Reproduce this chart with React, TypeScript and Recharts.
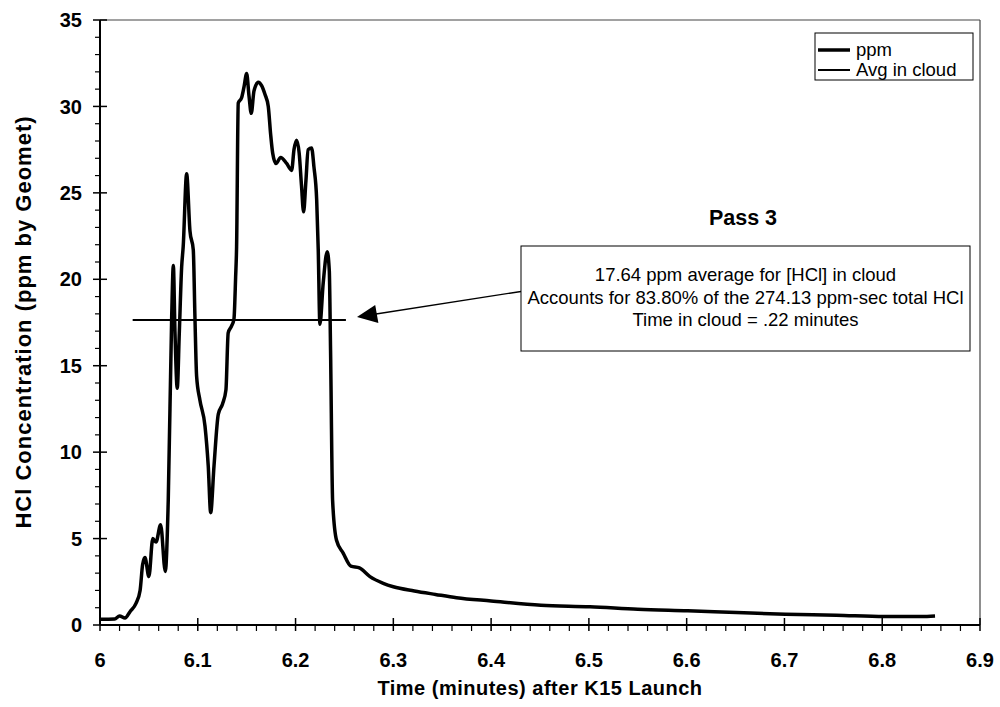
import React from 'react';
import { LineChart, Line, XAxis, YAxis, ReferenceLine } from 'recharts';

const ppmTime = [
  6.0, 6.015, 6.02, 6.0256, 6.0307, 6.0368, 6.041, 6.0436, 6.046, 6.05,
  6.054, 6.0573, 6.062, 6.0668, 6.0698, 6.0733, 6.075, 6.0767, 6.079, 6.0811,
  6.0835, 6.0851, 6.0886, 6.092, 6.0954, 6.0971, 6.0988, 6.1022, 6.1074, 6.1107,
  6.1132, 6.1166, 6.121, 6.1254, 6.1288, 6.1311, 6.1346, 6.137, 6.1387, 6.1397,
  6.1414, 6.1448, 6.1472, 6.15, 6.1524, 6.1547, 6.1575, 6.1619, 6.1653, 6.1687,
  6.1721, 6.1745, 6.1766, 6.18, 6.1848, 6.1909, 6.196, 6.1984, 6.2011, 6.2037,
  6.2061, 6.2082, 6.2106, 6.2129, 6.2164, 6.2188, 6.2216, 6.2232, 6.2249, 6.2283,
  6.2324, 6.2345, 6.2358, 6.2379, 6.2419, 6.2487, 6.2566, 6.2653, 6.2761, 6.2897,
  6.3, 6.3215, 6.3431, 6.3646, 6.4, 6.451, 6.501, 6.55, 6.601, 6.651,
  6.701, 6.753, 6.802, 6.84, 6.854,
];
const ppmValue = [
  0.33, 0.35, 0.52, 0.4, 0.77, 1.25, 2.0, 3.5, 3.9, 2.8,
  5.0, 4.8, 5.8, 3.1, 7.2, 17.8, 20.8, 16.9, 13.7, 16.9,
  20.7, 21.9, 26.1, 22.8, 21.7, 17.8, 14.4, 13.0, 11.5, 9.2,
  6.5, 9.2, 12.2, 12.8, 13.6, 16.9, 17.3, 17.7, 20.1, 21.9,
  30.2, 30.5, 31.1, 31.9, 30.6, 29.6, 30.9, 31.4, 31.2, 30.7,
  30.0, 28.4, 27.3, 26.7, 27.05, 26.7, 26.3, 27.5, 28.05, 27.3,
  25.4, 23.9, 25.7, 27.5, 27.6, 26.5, 24.6, 21.7, 17.4, 19.8,
  21.6, 20.5, 15.9, 7.2, 4.9, 4.16, 3.4, 3.3, 2.8, 2.41,
  2.21, 1.97, 1.77, 1.58, 1.39, 1.14, 1.06, 0.91, 0.82, 0.72,
  0.62, 0.57, 0.49, 0.49, 0.52,
];

const avgTime = [6.0334, 6.2515];
const avgValue = [17.64, 17.64];

const xMajorTicks = [6, 6.1, 6.2, 6.3, 6.4, 6.5, 6.6, 6.7, 6.8, 6.9];
const yMajorTicks = [0, 5, 10, 15, 20, 25, 30, 35];

const seriesNames = ['ppm', 'Avg in cloud'];
const annotationTitle = 'Pass 3';
const annotationLines = [
  '17.64 ppm average for [HCl] in cloud',
  'Accounts for 83.80% of the 274.13 ppm-sec total HCl',
  'Time in cloud = .22 minutes',
];
const xAxisTitle = 'Time (minutes) after K15 Launch';
const yAxisTitle = 'HCl Concentration (ppm by Geomet)';

const ppmData = ppmTime.map((t, i) => ({ t, v: ppmValue[i] }));
const avgData = avgTime.map((t, i) => ({ t, v: avgValue[i] }));

// minor ticks: subdivide majors
const xTicks: number[] = [];
for (let i = 0; i < xMajorTicks.length - 1; i++) {
  for (let k = 0; k < 5; k++) {
    xTicks.push(+(xMajorTicks[i] + (k * (xMajorTicks[i + 1] - xMajorTicks[i])) / 5).toFixed(3));
  }
}
xTicks.push(xMajorTicks[xMajorTicks.length - 1]);
const yTicks: number[] = [];
for (let i = 0; i < yMajorTicks.length - 1; i++) {
  for (let k = 0; k < 5; k++) yTicks.push(yMajorTicks[i] + k);
}
yTicks.push(yMajorTicks[yMajorTicks.length - 1]);

const FONT = '"Liberation Sans", Arial, Helvetica, sans-serif';

const isMajor = (v: number, arr: number[]) => arr.some((m) => Math.abs(m - v) < 1e-6);

const XTick = (props: any) => {
  const { x, y, payload } = props;
  const v = payload.value as number;
  if (isMajor(v, xMajorTicks)) {
    const label = Math.abs(v - Math.round(v)) < 1e-6 ? String(Math.round(v)) : v.toFixed(1);
    return (
      <g>
        <line x1={x} x2={x} y1={y - 7} y2={y + 6} stroke="#000" strokeWidth={1.5} />
        <text x={x} y={y + 42} textAnchor="middle" fontFamily={FONT} fontWeight="bold" fontSize={20} fill="#000">
          {label}
        </text>
      </g>
    );
  }
  return <line x1={x} x2={x} y1={y} y2={y + 6} stroke="#000" strokeWidth={1.2} />;
};

const YTick = (props: any) => {
  const { x, y, payload } = props;
  const v = payload.value as number;
  if (isMajor(v, yMajorTicks)) {
    return (
      <g>
        <line x1={x - 7} x2={x + 7} y1={y} y2={y} stroke="#000" strokeWidth={1.5} />
        <text x={x - 18} y={y} dy="0.36em" textAnchor="end" fontFamily={FONT} fontWeight="bold" fontSize={20} fill="#000">
          {v}
        </text>
      </g>
    );
  }
  return <line x1={x - 5} x2={x} y1={y} y2={y} stroke="#000" strokeWidth={1.2} />;
};

export default function App() {
  return (
    <div style={{ position: 'absolute', left: 0, top: 0, width: 1000, height: 707, background: '#fff', fontFamily: FONT }}>
      <LineChart width={1000} height={707} margin={{ top: 20, right: 20, bottom: 0, left: 0 }}>
        <XAxis
          dataKey="t"
          type="number"
          domain={[6, 6.9]}
          ticks={xTicks}
          interval={0}
          tickSize={0}
          tickMargin={0}
          tickLine={false}
          tick={<XTick />}
          height={82}
          axisLine={{ stroke: '#000', strokeWidth: 2 }}
          allowDataOverflow
        />
        <YAxis
          type="number"
          domain={[0, 35]}
          ticks={yTicks}
          interval={0}
          tickSize={0}
          tickMargin={0}
          tickLine={false}
          tick={<YTick />}
          width={100}
          axisLine={{ stroke: '#000', strokeWidth: 2 }}
          allowDataOverflow
        />
        <ReferenceLine y={35} stroke="#444" strokeWidth={1.2} />
        <ReferenceLine x={6.9} stroke="#444" strokeWidth={1.2} />
        <Line
          data={avgData}
          dataKey="v"
          name={seriesNames[1]}
          type="linear"
          stroke="#000"
          strokeWidth={2}
          dot={false}
          activeDot={false}
          isAnimationActive={false}
        />
        <Line
          data={ppmData}
          dataKey="v"
          name={seriesNames[0]}
          type="monotone"
          stroke="#000"
          strokeWidth={3.5}
          dot={false}
          activeDot={false}
          isAnimationActive={false}
        />
      </LineChart>

      {/* axis titles */}
      <svg width={1000} height={707} style={{ position: 'absolute', left: 0, top: 0, pointerEvents: 'none' }}>
        <text
          x={540}
          y={695}
          textAnchor="middle"
          fontFamily={FONT}
          fontWeight="bold"
          fontSize={20}
          letterSpacing={0.5}
          fill="#000"
        >
          {xAxisTitle}
        </text>
        <text
          x={0}
          y={0}
          transform="translate(31,322) rotate(-90)"
          textAnchor="middle"
          fontFamily={FONT}
          fontWeight="bold"
          fontSize={22}
          letterSpacing={1}
          fill="#000"
        >
          {yAxisTitle}
        </text>

        {/* legend */}
        <rect x={815} y={33} width={158} height={47} fill="#fff" stroke="#000" strokeWidth={1} />
        <line x1={818} x2={850} y1={50} y2={50} stroke="#000" strokeWidth={3.5} />
        <text x={856} y={56} fontFamily={FONT} fontSize={18.5} fill="#000">{seriesNames[0]}</text>
        <line x1={818} x2={850} y1={70} y2={70} stroke="#000" strokeWidth={2} />
        <text x={856} y={76} fontFamily={FONT} fontSize={18.5} fill="#000">{seriesNames[1]}</text>

        {/* annotation */}
        <text x={743} y={225} textAnchor="middle" fontFamily={FONT} fontWeight="bold" fontSize={21.5} fill="#000">
          {annotationTitle}
        </text>
        <rect x={521} y={246} width={449} height={105} fill="#fff" stroke="#000" strokeWidth={1} />
        {annotationLines.map((s, i) => (
          <text key={i} x={745.5} y={281 + i * 22.5} textAnchor="middle" fontFamily={FONT} fontSize={18.5} fill="#000">
            {s}
          </text>
        ))}
        <line x1={376} x2={521} y1={314} y2={291.5} stroke="#000" strokeWidth={1.3} />
        <polygon points="357,317 378.4,323 375.2,305" fill="#000" />
      </svg>
    </div>
  );
}
